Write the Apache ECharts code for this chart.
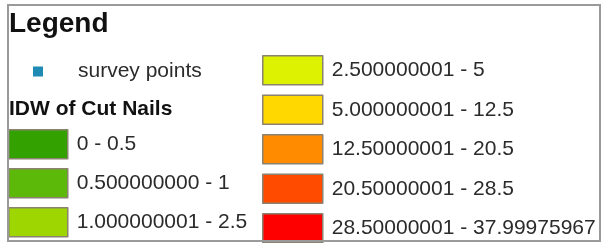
<!DOCTYPE html>
<html>
<head>
<meta charset="utf-8">
<script src="https://cdn.jsdelivr.net/npm/echarts@6/dist/echarts.min.js"></script>
<style>
html,body{margin:0;padding:0;background:#fff;}
#chart{width:603px;height:243px;}
</style>
</head>
<body>
<div id="chart"></div>
<script>
const legendTitle = 'Legend';
const pointLabel = 'survey points';
const pointColor = '#1f8ab3';
const layerTitle = 'IDW of Cut Nails';
const classLabels = ['0 - 0.5', '0.500000000 - 1', '1.000000001 - 2.5', '2.500000001 - 5', '5.000000001 - 12.5', '12.50000001 - 20.5', '20.50000001 - 28.5', '28.50000001 - 37.99975967'];
const classColors = ['#33a200', '#5cb90a', '#9dd600', '#dcf200', '#ffd800', '#ff8c00', '#ff4b00', '#ff0000'];
const leftCount = 3;

const FONT = 'Liberation Sans, Arial, Helvetica, sans-serif';
const chart = echarts.init(document.getElementById('chart'), null, {renderer: 'canvas'});

const classData = classLabels.map((n, i) => ({name: n, value: 1, itemStyle: {color: classColors[i]}}));
const textStyle = {fontFamily: FONT, fontSize: 21, color: '#2b2b2b', padding: [0, 0, 0, 4]};
const swatchStyle = {borderColor: '#8c8270', borderWidth: 1.5};

chart.setOption({
  backgroundColor: '#ffffff',
  animation: false,
  title: [
    {text: legendTitle, left: 9, top: 10, padding: 0,
     textStyle: {fontFamily: FONT, fontSize: 28, fontWeight: 'bold', color: '#111'}},
    {text: layerTitle, left: 9, top: 99, padding: 0,
     textStyle: {fontFamily: FONT, fontSize: 21, fontWeight: 'bold', color: '#111'}}
  ],
  legend: [
    {data: [pointLabel], orient: 'vertical', left: 33, top: 61, height: 40, padding: 0,
     itemWidth: 10, itemHeight: 10, icon: 'rect', selectedMode: false,
     itemStyle: {borderWidth: 0},
     textStyle: Object.assign({}, textStyle, {padding: [0, 0, 0, 30]})},
    {data: classLabels.slice(0, leftCount), orient: 'vertical', left: 8, top: 129, height: 200, padding: 0,
     itemWidth: 59, itemHeight: 29, itemGap: 8.5, icon: 'rect', selectedMode: false,
     itemStyle: swatchStyle, textStyle: textStyle},
    {data: classLabels.slice(leftCount), orient: 'vertical', left: 262, top: 55, height: 260, padding: 0,
     itemWidth: 60, itemHeight: 29, itemGap: 9, icon: 'rect', selectedMode: false,
     itemStyle: swatchStyle, textStyle: textStyle}
  ],
  series: [
    {type: 'pie', name: 'classes', center: [-500, -500], radius: [0, 1], silent: true,
     label: {show: false}, labelLine: {show: false}, data: classData},
    {type: 'pie', name: 'points', center: [-500, -500], radius: [0, 1], silent: true,
     label: {show: false}, labelLine: {show: false},
     data: [{name: pointLabel, value: 1, itemStyle: {color: pointColor}}]}
  ],
  graphic: [
    {type: 'rect', shape: {x: 8, y: 5, width: 592, height: 236}, z: 100, silent: true,
     style: {fill: 'none', stroke: '#9a9a9a', lineWidth: 2}}
  ]
});
</script>
</body>
</html>
